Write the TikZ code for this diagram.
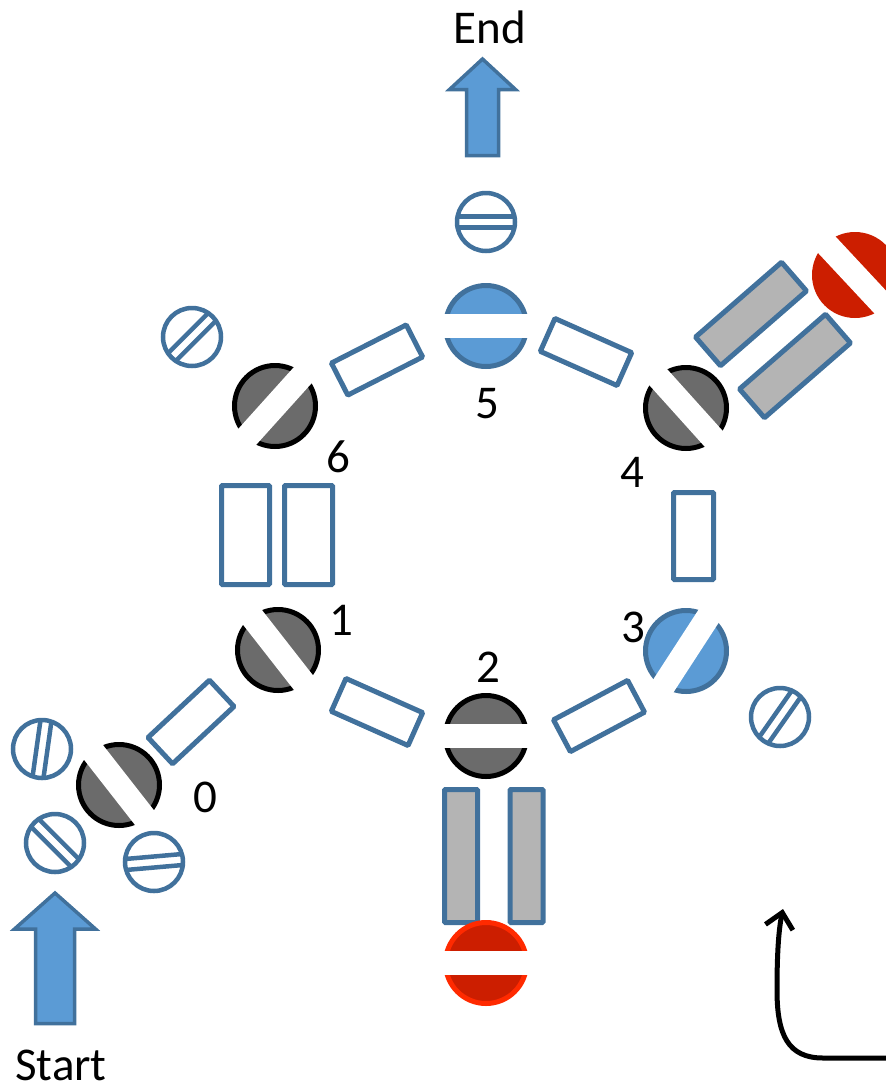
\documentclass[tikz,border=0pt]{standalone}
\usepackage{fontspec}
\setmainfont{Carlito}
\usetikzlibrary{arrows.meta}
\definecolor{bfill}{HTML}{5B9BD5}
\definecolor{bline}{HTML}{41719C}
\definecolor{gfill}{HTML}{6B6B6B}
\definecolor{lgray}{HTML}{B4B4B4}
\definecolor{rfill}{HTML}{CC1E00}
\definecolor{rline}{HTML}{FF2A00}
\begin{document}
\begin{tikzpicture}[x=1pt,y=-1pt,
  every node/.style={inner sep=0pt, outer sep=0pt},
  rbox/.style={rectangle, draw=bline, line width=5pt, fill=white, minimum width=84pt, minimum height=36pt, rounded corners=1pt},
  gbox/.style={rbox, fill=lgray},
  bigc/.style={circle, minimum size=81pt, line width=5pt},
  graycirc/.style={bigc, draw=black, fill=gfill},
  bluecirc/.style={bigc, draw=bline, fill=bfill},
  redcirc/.style={bigc, draw=rline, fill=rfill},
  smallc/.style={circle, minimum size=58pt, draw=bline, line width=4.5pt},
  lab/.style={font=\fontsize{47}{52}\selectfont, anchor=base},
  band/.pic={\begin{scope}\clip (0,0) circle (46);\fill[white] (-50,-12) rectangle (50,12);\end{scope}},
  slits/.pic={\begin{scope}\clip (0,0) circle (29);\draw[bline, line width=4.5pt] (-35,-5.5) -- (35,-5.5) (-35,5.5) -- (35,5.5);\end{scope}},
  bigarrow/.style={fill=bfill, draw=bline, line width=3.5pt, line join=miter}
]
\useasboundingbox (0,0) rectangle (886,1090);

% connector boxes
\node[rbox, rotate=43] (r01) at (191,722) {};
\node[rbox, rotate=-24] (r12) at (377,712) {};
\node[rbox, rotate=28] (r23) at (599,716) {};
\node[rbox, minimum width=40pt, minimum height=87pt] (r34) at (693.5,536) {};
\node[rbox, rotate=-24] (r45) at (586,352) {};
\node[rbox, rotate=27] (r56) at (377,360) {};
\node[rbox, minimum width=48pt, minimum height=99pt] (r61a) at (245.5,535) {};
\node[rbox, minimum width=48pt, minimum height=99pt] (r61b) at (308.5,535) {};

% gray boxes
\node[gbox, rotate=41, minimum width=114pt, minimum height=38pt] (g4a) at (751,314) {};
\node[gbox, rotate=41, minimum width=114pt, minimum height=38pt] (g4b) at (795,366) {};
\node[gbox, minimum width=33pt, minimum height=133pt] (g2a) at (461,856) {};
\node[gbox, minimum width=33pt, minimum height=133pt] (g2b) at (526.5,856) {};

% main circles
\node[graycirc] (n0) at (119,785) {};
\node[graycirc] (n1) at (278,650) {};
\node[graycirc] (n2) at (486,736) {};
\node[bluecirc] (n3) at (686,651) {};
\node[graycirc] (n4) at (686,408) {};
\node[bluecirc] (n5) at (486,326) {};
\node[graycirc] (n6) at (275,406) {};
\node[bigc, minimum size=86pt, fill=rfill] (rc4) at (855,275) {};
\node[redcirc] (rc2) at (486,963) {};

\pic[rotate=-52] at (n0.center) {band};
\pic[rotate=-52] at (n1.center) {band};
\pic at (n2.center) {band};
\pic[rotate=57] at (n3.center) {band};
\pic[rotate=-48] at (n4.center) {band};
\pic at (n5.center) {band};
\pic[rotate=48] at (n6.center) {band};
\pic[rotate=-47] at (rc4.center) {band};
\pic at (rc2.center) {band};

% small circles
\node[smallc] (s5) at (486,222) {};
\node[smallc] (s6) at (192,337) {};
\node[smallc] (s3) at (780,717) {};
\node[smallc] (s0a) at (42,749) {};
\node[smallc] (s0b) at (55,843) {};
\node[smallc] (s0c) at (154,862) {};
\pic at (s5.center) {slits};
\pic[rotate=45] at (s6.center) {slits};
\pic[rotate=55] at (s3.center) {slits};
\pic[rotate=82] at (s0a.center) {slits};
\pic[rotate=-45] at (s0b.center) {slits};
\pic[rotate=5] at (s0c.center) {slits};

% labels
\node[lab] (l0) at (205,812) {0};
\node[lab] (l1) at (341,635) {1};
\node[lab] (l2) at (488,682) {2};
\node[lab] (l3) at (633,642) {3};
\node[lab] (l4) at (632,487) {4};
\node[lab] (l5) at (487,418) {5};
\node[lab] (l6) at (338,472) {6};
\node[lab] (tend) at (490,43) {End};
\node[lab] (tstart) at (61,1080) {Start};

% big arrows
\draw[bigarrow] (482.5,59) -- (515.5,89.5) -- (498.5,89.5) -- (498.5,155.5) -- (466.5,155.5) -- (466.5,89.5) -- (449.5,89.5) -- cycle;
\draw[bigarrow] (55,893) -- (95.5,929) -- (74.5,929) -- (74.5,1023.5) -- (35.5,1023.5) -- (35.5,929) -- (14.5,929) -- cycle;

% curved arrow
\coordinate (cs) at (892,1058);
\coordinate (ce) at (783,909);
\draw[line width=5pt, line cap=round, -{Straight Barb[length=15pt,width=28pt,line width=5pt]}]
  (cs) -- (823,1058) .. controls (788,1058) and (777,1035) .. (777,990) .. controls (777,950) and (779,928) .. (ce);
\end{tikzpicture}
\end{document}
